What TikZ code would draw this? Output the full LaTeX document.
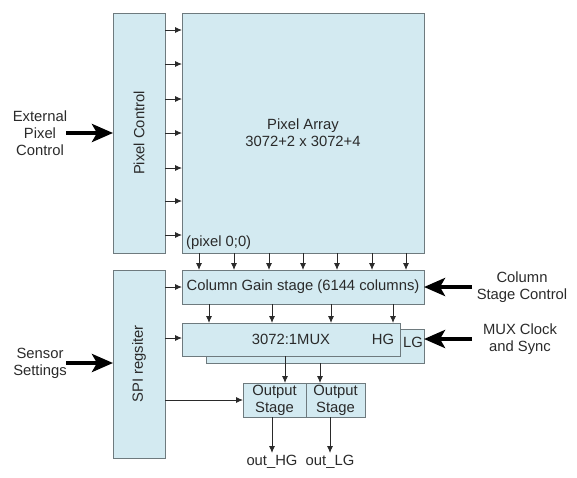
\documentclass[tikz,border=0pt]{standalone}
\usepackage{fontspec}
\setmainfont{Liberation Sans}
\usetikzlibrary{arrows.meta}
\definecolor{boxfill}{HTML}{D3EAF1}
\definecolor{boxline}{HTML}{6E7A7E}
\definecolor{txt}{HTML}{2A2A2A}
\begin{document}
\begin{tikzpicture}[x=1pt,y=-1pt,
  blk/.style={draw=boxline,fill=boxfill,line width=0.9pt,inner sep=0pt,outer sep=0pt,
     rectangle,text=txt,align=center,font=\fontsize{14.8}{16.8}\selectfont},
  lbl/.style={inner sep=0pt,text=txt,align=center,font=\fontsize{14.8}{16.8}\selectfont},
  sarr/.style={draw=txt,line width=0.9pt,-{Latex[length=7pt,width=6pt]}},
  barr/.style={draw=black,line width=4pt,-{Stealth[length=21pt,width=18pt,inset=5pt]}}]
\useasboundingbox (0,0) rectangle (577,477);
% blocks
\node[blk,minimum width=52pt,minimum height=240pt] (pc) at (139,133) {};
\node[lbl,rotate=90] (pctxt) at (139,133) {Pixel Control};
\node[blk,minimum width=242pt,minimum height=240pt] (pa) at (303,133) {Pixel Array\\3072+2 x 3072+4};
\node[lbl,anchor=south west] (p00) at ([shift={(4,-3)}]pa.south west) {(pixel 0;0)};
\node[blk,minimum width=242pt,minimum height=34pt] (cg) at (303,287) {Column Gain stage (6144 columns)};
\node[blk,minimum width=52pt,minimum height=188pt] (spi) at (139,364) {};
\node[lbl,rotate=90] (spitxt) at (139,364) {SPI regsiter};
\node[blk,minimum width=218pt,minimum height=34pt] (muxb) at (315,346) {};
\node[lbl] (lg) at (413,342) {LG};
\node[blk,minimum width=218pt,minimum height=33pt] (mux) at (291,339.5) {3072:1MUX};
\node[lbl] (hg) at (383,339) {HG};
\node[blk,minimum width=63pt,minimum height=34pt] (os1) at (274.5,400) {Output\\Stage};
\node[blk,minimum width=59pt,minimum height=34pt] (os2) at (335.5,400) {Output\\Stage};
% outside labels
\node[lbl] (ext) at (40,133) {External\\Pixel\\Control};
\node[lbl] (sens) at (40,363) {Sensor\\Settings};
\node[lbl] (csc) at (522,287) {Column\\Stage Control};
\node[lbl] (mcs) at (520,339) {MUX Clock\\and Sync};
\node[lbl] (ohg) at (272,462) {out\_HG};
\node[lbl] (olg) at (330,462) {out\_LG};
\coordinate (hgend) at (272,453);
\coordinate (lgend) at (330,453);
% small arrows pixel control -> array
\foreach \yy in {30,64,99,133,168,201,235}
  \draw[sarr] (pc.east |- 0,\yy) -- (pa.west |- 0,\yy);
% array -> column gain
\foreach \xx in {199,234,269,303,337,372,406}
  \draw[sarr] (pa.south -| \xx,0) -- (cg.north -| \xx,0);
% column gain -> mux
\foreach \xx in {209,272,331,393}
  \draw[sarr] (cg.south -| \xx,0) -- (mux.north -| \xx,0);
% spi -> blocks
\draw[sarr] (spi.east |- cg.west) -- (cg.west);
\draw[sarr] (spi.east |- 0,338) -- (mux.west |- 0,338);
\draw[sarr] (spi.east |- os1.west) -- (os1.west);
% mux -> output
\draw[sarr] (mux.south -| 285,0) -- (os1.north -| 285,0);
\draw[sarr] (muxb.south -| 320,0) -- (os2.north -| 320,0);
% outputs
\draw[sarr] (os1.south -| hgend) -- (hgend);
\draw[sarr] (os2.south -| lgend) -- (lgend);
% big arrows
\draw[barr] (66,133) -- (pc.west);
\draw[barr] (66,363) -- (spi.west |- 0,363);
\draw[barr] (472,287) -- (cg.east);
\draw[barr] (472,339) -- (muxb.east |- 0,339);
\end{tikzpicture}
\end{document}
